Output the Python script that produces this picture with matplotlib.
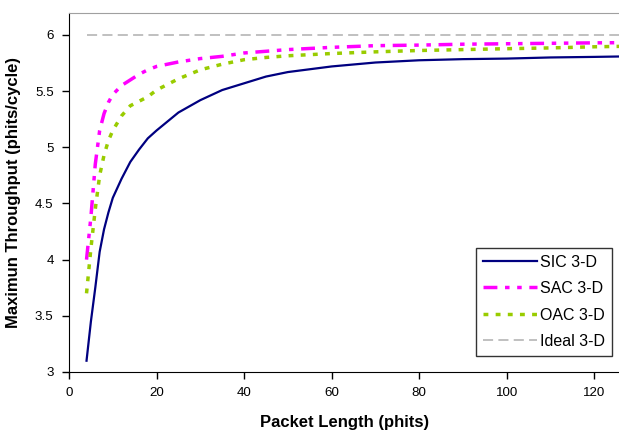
import matplotlib.pyplot as plt

plt.rcParams['font.family'] = ['Liberation Sans', 'DejaVu Sans']

# packet lengths (phits) and throughput per scheme
pkt_len = [4, 5, 6, 7, 8, 9, 10, 12, 14, 16, 18, 20, 25, 30, 35, 40, 45, 50,
           60, 70, 80, 90, 100, 110, 120, 128]
sic = [3.10, 3.45, 3.75, 4.07, 4.27, 4.42, 4.55, 4.72, 4.87, 4.98, 5.08, 5.15,
       5.31, 5.42, 5.51, 5.57, 5.63, 5.67, 5.72, 5.755, 5.775, 5.785, 5.79,
       5.80, 5.805, 5.81]
sac = [4.00, 4.38, 4.85, 5.15, 5.30, 5.40, 5.47, 5.55, 5.60, 5.65, 5.69, 5.72,
       5.76, 5.79, 5.81, 5.84, 5.855, 5.87, 5.89, 5.905, 5.91, 5.918, 5.922,
       5.926, 5.93, 5.932]
oac = [3.70, 4.10, 4.45, 4.75, 4.93, 5.06, 5.15, 5.28, 5.37, 5.41, 5.45, 5.51,
       5.61, 5.69, 5.74, 5.78, 5.80, 5.815, 5.835, 5.85, 5.862, 5.87, 5.878,
       5.885, 5.895, 5.90]
ideal = [6.0] * len(pkt_len)

fig = plt.figure(figsize=(6.19, 4.32), dpi=100)
ax = fig.add_axes([0.1115, 0.139, 0.889, 0.832])

ax.plot(pkt_len, sic, color='#000080', lw=1.6, label='SIC 3-D')
ax.plot(pkt_len, sac, color='#ff00ff', lw=2.5, dashes=(4, 2.2, 1.3, 2.2, 1.3, 2.2),
        label='SAC 3-D')
ax.plot(pkt_len, oac, color='#99cc00', lw=2.5, dashes=(1.4, 2.1),
        label='OAC 3-D')
ax.plot(pkt_len, ideal, color='#c0c0c0', lw=1.4, dashes=(5.2, 2.7),
        label='Ideal 3-D')

ax.set_xlim(0, 125.7)
ax.set_ylim(3, 6.2)
ax.set_xticks(range(0, 121, 20))
ax.set_yticks([3, 3.5, 4, 4.5, 5, 5.5, 6])
ax.set_yticklabels(['3', '3.5', '4', '4.5', '5', '5.5', '6'])
ax.tick_params(direction='out', length=5, width=1, labelsize=9.6, pad=6)

ax.spines['left'].set_color('black')
ax.spines['bottom'].set_color('black')
ax.spines['top'].set_color('#a0a0a0')
ax.spines['right'].set_visible(False)

ax.set_xlabel('Packet Length (phits)', fontsize=12, fontweight='bold', labelpad=11)
ax.set_ylabel('Maximun Throughput (phits/cycle)', fontsize=12,
              fontweight='bold', labelpad=10)

leg = ax.legend(loc='lower right', bbox_to_anchor=(0.987, 0.045),
                borderaxespad=0, fontsize=11.5, frameon=True, fancybox=False,
                edgecolor='black', handlelength=3.4, borderpad=0.42,
                labelspacing=0.72, handletextpad=0.2)
leg.get_frame().set_linewidth(1)

fig.savefig('out.png', dpi=100)
